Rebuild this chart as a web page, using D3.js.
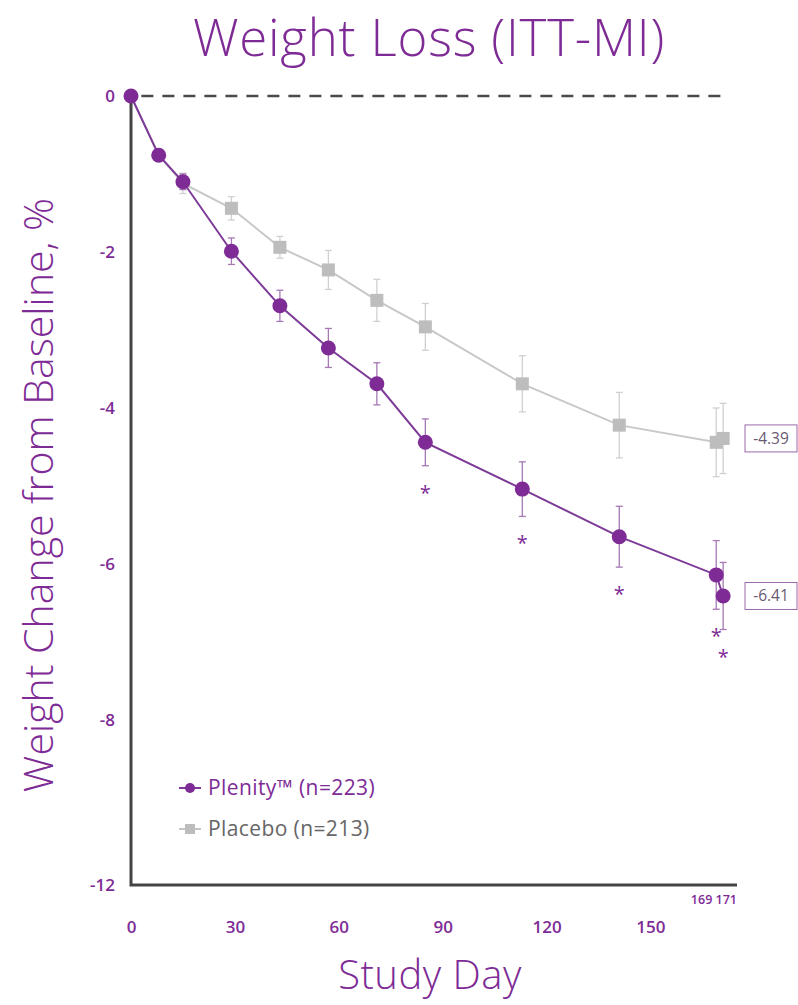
<!DOCTYPE html>
<html><head><meta charset="utf-8">
<script src="https://cdn.jsdelivr.net/npm/d3@7"></script>
<style>
html,body{margin:0;padding:0;background:#fff;}
svg{display:block;}
</style></head>
<body>
<svg id="chart" width="798" height="1005"></svg>
<script>
const days = [0, 8, 15, 29, 43, 57, 71, 85, 113, 141, 169, 171];
const plenity = [0, -0.76, -1.10, -1.99, -2.69, -3.23, -3.69, -4.44, -5.04, -5.65, -6.14, -6.41];
const plenityErr = [0, 0, 0.10, 0.17, 0.20, 0.25, 0.27, 0.30, 0.35, 0.39, 0.44, 0.43];
const placebo = [0, -0.76, -1.12, -1.44, -1.94, -2.23, -2.62, -2.96, -3.69, -4.22, -4.44, -4.39];
const placeboErr = [0, 0, 0.13, 0.15, 0.14, 0.25, 0.27, 0.30, 0.36, 0.42, 0.44, 0.45];
const signifDays = [85, 113, 141, 169, 171];
const yTicks = [0, -2, -4, -6, -8, -12];
const xTicks = [0, 30, 60, 90, 120, 150];
const xEndTicks = ["169", "171"];
const endLabels = ["-4.39", "-6.41"];
const legendLabels = ["Plenity\u2122 (n=223)", "Placebo (n=213)"];

const PURPLE = "#7e2b96";
const PURPLE_LINE = "#7d3a97";
const GRAY = "#bdbdbd";
const FONT = "'Open Sans', 'Lato', sans-serif";

const svg = d3.select("#chart");
const x = d3.scaleLinear().domain([0, 175]).range([131, 737]);
const y = d3.scaleLinear().domain([0, -8, -12]).range([96, 720, 885]);

// title
svg.append("text").attr("x", 429).attr("y", 56).attr("text-anchor", "middle")
  .attr("font-family", FONT).attr("font-weight", 300).attr("font-size", 51)
  .attr("letter-spacing", 0.8)
  .attr("fill", PURPLE).text("Weight Loss (ITT-MI)");

// y axis title
svg.append("text").attr("transform", "translate(53,495) rotate(-90)")
  .attr("text-anchor", "middle").attr("font-family", FONT).attr("font-weight", 300)
  .attr("font-size", 41).attr("fill", PURPLE).text("Weight Change from Baseline, %");

// x axis title
svg.append("text").attr("x", 430).attr("y", 989).attr("text-anchor", "middle")
  .attr("font-family", FONT).attr("font-weight", 300).attr("font-size", 40)
  .attr("letter-spacing", 0.5)
  .attr("fill", PURPLE).text("Study Day");

// baseline dashed
svg.append("line").attr("x1", x(3)).attr("x2", x(171)).attr("y1", y(0)).attr("y2", y(0))
  .attr("stroke", "#4a4a4a").attr("stroke-width", 2.5).attr("stroke-dasharray", "12,9");

// axes
const yAxis = d3.axisLeft(y).tickValues(yTicks).tickSize(0).tickPadding(16).tickFormat(d => d);
const gy = svg.append("g").attr("transform", `translate(${x(0)},0)`).call(yAxis);
gy.select(".domain").remove();
gy.selectAll("text").attr("font-family", FONT).attr("font-weight", 600).attr("font-size", 17).attr("fill", PURPLE);

const xAxis = d3.axisBottom(x).tickValues(xTicks).tickSize(0).tickPadding(36).tickFormat(d => d);
const gx = svg.append("g").attr("transform", `translate(0,${y(-12)})`).call(xAxis);
gx.select(".domain").remove();
gx.selectAll("text").attr("font-family", FONT).attr("font-weight", 600).attr("font-size", 17).attr("fill", PURPLE);

svg.append("text").attr("x", x(175)).attr("y", y(-12) + 19).attr("text-anchor", "end")
  .attr("font-family", FONT).attr("font-weight", 600).attr("font-size", 12.5).attr("fill", PURPLE)
  .text(xEndTicks.join(" "));

svg.append("path").attr("d", `M${x(0)},${y(0)}V${y(-12)}H${x(175)}`)
  .attr("fill", "none").attr("stroke", "#444").attr("stroke-width", 3);

// series
function drawSeries(vals, errs, color, lineColor, shape, other) {
  const pts = days.map((d, i) => ({d, v: vals[i], e: errs[i], hidden: other ? Math.abs(vals[i] - other[i]) < 0.1 : false}));
  const line = d3.line().x(p => x(p.d)).y(p => y(p.v));
  const g = svg.append("g");
  g.selectAll("g.err").data(pts.filter(p => p.e > 0)).join("g").attr("class", "err")
    .each(function(p) {
      const s = d3.select(this);
      const cx = x(p.d), y1 = y(p.v + p.e), y2 = y(p.v - p.e);
      s.append("line").attr("x1", cx).attr("x2", cx).attr("y1", y1).attr("y2", y2);
      s.append("line").attr("x1", cx - 3.5).attr("x2", cx + 3.5).attr("y1", y1).attr("y2", y1);
      s.append("line").attr("x1", cx - 3.5).attr("x2", cx + 3.5).attr("y1", y2).attr("y2", y2);
    })
    .attr("stroke", shape === "circle" ? "#a678b4" : "#d0d0d0").attr("stroke-width", 1.3);
  g.append("path").datum(pts).attr("d", line).attr("fill", "none")
    .attr("stroke", lineColor).attr("stroke-width", 2);
  if (shape === "circle") {
    g.selectAll("circle").data(pts).join("circle").attr("cx", p => x(p.d)).attr("cy", p => y(p.v))
      .attr("r", 7.5).attr("fill", color);
  } else {
    g.selectAll("rect").data(pts.filter(p => !p.hidden)).join("rect").attr("x", p => x(p.d) - 6.5).attr("y", p => y(p.v) - 6.5)
      .attr("width", 13).attr("height", 13).attr("fill", color);
  }
  return pts;
}
drawSeries(placebo, placeboErr, GRAY, "#c8c8c8", "square", plenity);
const ppts = drawSeries(plenity, plenityErr, PURPLE, PURPLE_LINE, "circle");

// significance asterisks
svg.selectAll("text.ast").data(ppts.filter(p => signifDays.includes(p.d))).join("text")
  .attr("class", "ast").attr("x", p => x(p.d)).attr("y", p => y(p.v - p.e) + 34)
  .attr("text-anchor", "middle").attr("font-family", FONT).attr("font-size", 20).attr("fill", PURPLE)
  .text("*");

// end labels
const endVals = [placebo[placebo.length - 1], plenity[plenity.length - 1]];
endVals.forEach((v, i) => {
  const cy = y(v);
  svg.append("rect").attr("x", 745).attr("y", cy - 13.5).attr("width", 52).attr("height", 27)
    .attr("fill", "#fff").attr("stroke", "#9b6aaa").attr("stroke-width", 1);
  svg.append("text").attr("x", 771).attr("y", cy + 5.5).attr("text-anchor", "middle")
    .attr("font-family", FONT).attr("font-size", 15.5).attr("fill", "#6a5a72").text(endLabels[i]);
});

// legend
const leg = svg.append("g");
[0, 1].forEach(i => {
  const ly = 788 + i * 41;
  const col = i === 0 ? PURPLE : GRAY;
  leg.append("line").attr("x1", 179).attr("x2", 201).attr("y1", ly).attr("y2", ly)
    .attr("stroke", i === 0 ? PURPLE_LINE : "#c4c4c4").attr("stroke-width", 2);
  if (i === 0) leg.append("circle").attr("cx", 190).attr("cy", ly).attr("r", 5).attr("fill", col);
  else leg.append("rect").attr("x", 185).attr("y", ly - 5).attr("width", 10).attr("height", 10).attr("fill", col);
  leg.append("text").attr("x", 208).attr("y", ly + 7).attr("font-family", FONT).attr("font-size", 21)
    .attr("letter-spacing", 0.4)
    .attr("fill", i === 0 ? PURPLE : "#666").text(legendLabels[i]);
});
</script>
</body></html>
